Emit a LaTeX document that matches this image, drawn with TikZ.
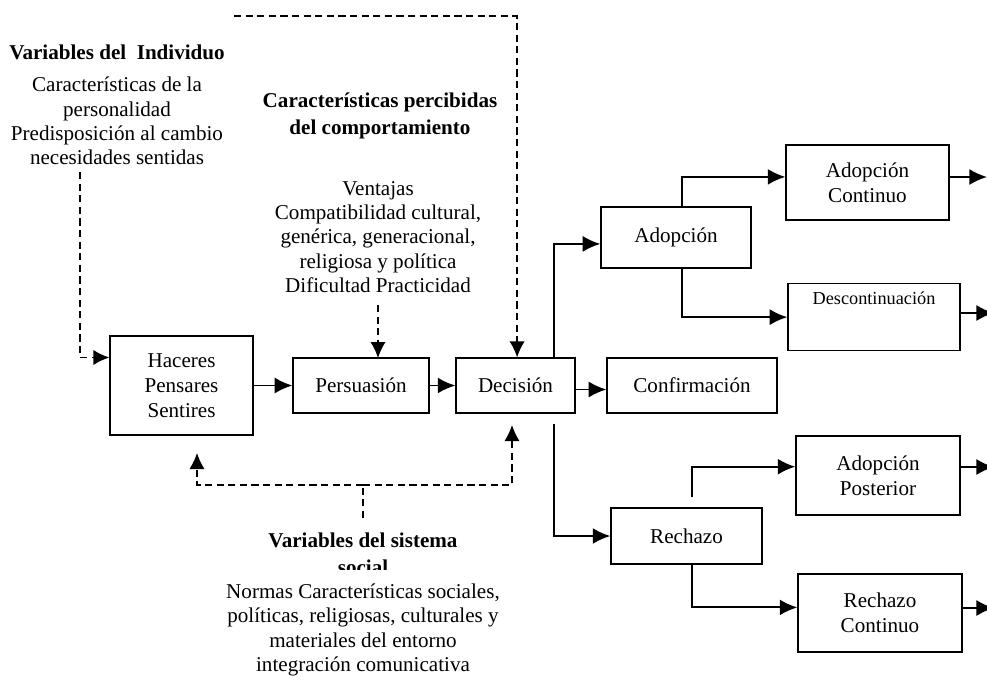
\documentclass[tikz,border=0pt]{standalone}
\usepackage{fontspec}
\setmainfont{Liberation Serif}
\usetikzlibrary{arrows.meta}

\tikzset{
  caja/.style={draw,line width=0.9pt,align=center,inner sep=0pt,font=\fontsize{15}{17.8}\selectfont},
  texto/.style={align=center,inner sep=0pt,font=\fontsize{15}{17.3}\selectfont},
  titulo/.style={align=center,inner sep=0pt,font=\fontsize{15}{19}\selectfont\bfseries},
  flecha/.style={-{Latex[length=4.4mm,width=4mm]},line width=1.4pt},
  punteada/.style={line width=1pt,dash pattern=on 1.8mm off 1.1mm},
  flechap/.style={punteada,-{Latex[length=4mm,width=3.8mm]}},
}

\begin{document}
\begin{tikzpicture}[x=0.025cm,y=-0.025cm]
  \useasboundingbox (0,0) rectangle (987,679);

  % textos
  \node[titulo] (indtit) at (117,52) {Variables del\ \ Individuo};
  \node[texto]  (indtxt) at (117,121) {Características de la\\personalidad\\Predisposición al cambio\\necesidades sentidas};
  \node[titulo] (pertit) at (380,116) {Características percibidas\\del comportamiento};
  \node[texto]  (pertxt) at (378,237) {Ventajas\\Compatibilidad cultural,\\genérica, generacional,\\religiosa y política\\Dificultad Practicidad};
  \begin{scope}
    \clip (240,522) rectangle (490,569);
    \node[titulo] (soctit) at (363,554) {Variables del sistema\\social};
  \end{scope}
  \node[texto]  (soctxt) at (363,630) {Normas Características sociales,\\políticas, religiosas, culturales y\\materiales del entorno\\integración comunicativa};

  % cajas
  \node[caja,minimum width=3.575cm,minimum height=2.475cm] (hps)   at (181.5,385.5) {Haceres\\Pensares\\Sentires};
  \node[caja,minimum width=3.4cm,minimum height=1.375cm]   (pers)  at (361,385.5)   {Persuasión};
  \node[caja,minimum width=2.975cm,minimum height=1.375cm] (dec)   at (515.5,385.5) {Decisión};
  \node[caja,minimum width=4.25cm,minimum height=1.375cm]  (conf)  at (692,385.5)   {Confirmación};
  \node[caja,minimum width=3.75cm,minimum height=1.525cm]  (adop)  at (676,237.5)   {Adopción};
  \node[caja,minimum width=4.075cm,minimum height=1.875cm] (adcon) at (867.5,182.5) {Adopción\\Continuo};
  \node[caja,anchor=north,minimum width=4.3cm,text height=5.2mm,text depth=11.55mm,
        font=\fontsize{13}{15}\selectfont] (desc) at (874,283) {Descontinuación};
  \node[caja,minimum width=3.775cm,minimum height=1.4cm]   (rech)  at (686.5,536)   {Rechazo};
  \node[caja,minimum width=4.1cm,minimum height=1.975cm]   (adpos) at (878,475.5)   {Adopción\\Posterior};
  \node[caja,minimum width=4.1cm,minimum height=1.95cm]    (rcon)  at (880,613)     {Rechazo\\Continuo};

  % puntos libres
  \coordinate (ini) at (80,172);
  \coordinate (sup) at (234,16);
  \coordinate (bs)  at (363,518);
  \coordinate (bm)  at (363,485);
  \coordinate (fh)  at (197,453);
  \coordinate (fd)  at (512,425);
  \coordinate (s1)  at (987,177);
  \coordinate (s2)  at (994,313);
  \coordinate (s3)  at (994,467);
  \coordinate (s4)  at (994,608);

  % flechas punteadas
  \draw[flechap] (ini) |- ([yshift=0.7cm]hps.west);
  \draw[flechap] (pertxt.south -| 378,0) ++(0,12) -- (378,358);
  \draw[flechap] (sup) -| ([xshift=0.04cm]dec.north);
  \draw[punteada] (bs) -- (bm);
  \draw[flechap] (bm) -| (fh);
  \draw[flechap] (bm) -| (fd);

  % flechas
  \draw[flecha] (hps) -- (pers);
  \draw[flecha] (pers) -- (dec);
  \draw[flecha] ([yshift=-0.1cm]dec.east) -- ([yshift=-0.1cm]conf.west);
  \draw[flecha] ([xshift=-0.55cm]dec.north east) |- ([yshift=-0.16cm]adop.west);
  \draw[flecha] ([xshift=-0.55cm,yshift=-0.25cm]dec.south east) |- (rech.west);
  \draw[flecha] ([xshift=0.15cm]adop.north) |- ([yshift=0.14cm]adcon.west);
  \draw[flecha] ([xshift=0.15cm]adop.south) |- (desc.west);
  \draw[flecha] ([xshift=0.14cm,yshift=0.25cm]rech.north) |- ([yshift=0.22cm]adpos.west);
  \draw[flecha] ([xshift=0.14cm]rech.south) |- ([yshift=0.14cm]rcon.west);
  \draw[flecha] (adcon.east |- s1) -- (s1);
  \draw[flecha] (desc.east |- s2) -- (s2);
  \draw[flecha] (adpos.east |- s3) -- (s3);
  \draw[flecha] (rcon.east |- s4) -- (s4);
\end{tikzpicture}
\end{document}
